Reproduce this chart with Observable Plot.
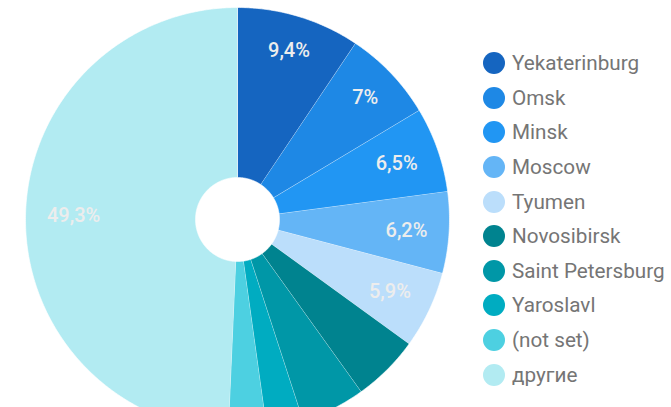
<!DOCTYPE html>
<html>
<head>
<meta charset="utf-8">
<script src="https://cdn.jsdelivr.net/npm/d3@7"></script>
<script src="https://cdn.jsdelivr.net/npm/@observablehq/plot@0.6"></script>
<style>
  html, body { margin: 0; padding: 0; background: #fff; overflow: hidden; }
  #wrap { position: relative; width: 671px; height: 407px; overflow: hidden; font-family: Roboto, "Noto Sans", sans-serif; }
  #chart { position: absolute; left: 0; top: 0; }
  #legend { position: absolute; left: 483px; top: 46px; }
  .row { display: flex; align-items: center; height: 34.6px; }
  .sw { width: 22px; height: 22px; border-radius: 50%; margin-right: 7px; flex: none; }
  .lab { font-size: 20.7px; color: #757575; white-space: nowrap; }
</style>
</head>
<body>
<div id="wrap"><div id="chart"></div><div id="legend"></div></div>
<script>
const cities = ["Yekaterinburg", "Omsk", "Minsk", "Moscow", "Tyumen", "Novosibirsk", "Saint Petersburg", "Yaroslavl", "(not set)", "другие"];
const shares = [9.4, 7, 6.5, 6.2, 5.9, 5.1, 4.9, 2.8, 2.9, 49.3];
const colors = ["#1565C0", "#1E88E5", "#2196F3", "#64B5F6", "#BBDEFB", "#00838F", "#0097A7", "#00ACC1", "#4DD0E1", "#B2EBF2"];
const labelThreshold = 5.5;

// layout
const W = 671, H = 407, CX = 237, CY = 219, R = 212, R0 = 42;
const inner = R0 / R;
const labelR = 0.9; // far corner of label box sits at 90% of radius
const fontSize = 20;

const total = d3.sum(shares);
let acc = 0;
const slices = cities.map((c, i) => {
  const a0 = acc / total * 2 * Math.PI;
  acc += shares[i];
  const a1 = acc / total * 2 * Math.PI;
  return {city: c, value: shares[i], a0, a1};
});

// polygon outline points (unit circle coords, y down)
const pts = [];
for (const s of slices) {
  const n = Math.max(2, Math.ceil((s.a1 - s.a0) / (Math.PI / 360)));
  for (let k = 0; k <= n; k++) {
    const a = s.a0 + (s.a1 - s.a0) * k / n;
    pts.push({city: s.city, x: Math.sin(a), y: -Math.cos(a)});
  }
  for (let k = n; k >= 0; k--) {
    const a = s.a0 + (s.a1 - s.a0) * k / n;
    pts.push({city: s.city, x: inner * Math.sin(a), y: -inner * Math.cos(a)});
  }
}

// labels
const ctx = document.createElement("canvas").getContext("2d");
ctx.font = `500 ${fontSize}px Roboto`;
const fmt = v => String(v).replace(".", ",") + "%";
const labels = slices.filter(s => s.value >= labelThreshold).map(s => {
  const text = fmt(s.value);
  const w = ctx.measureText(text).width / R;
  const h = fontSize * 0.72 / R;
  const m = (s.a0 + s.a1) / 2;
  const ux = Math.sin(m), uy = -Math.cos(m);
  const a = Math.sign(ux) * w / 2, b = Math.sign(uy) * h / 2;
  const p = ux * a + uy * b;
  const t = -p + Math.sqrt(p * p - (a * a + b * b - labelR * labelR));
  return {text, x: t * ux, y: t * uy};
});

const chart = Plot.plot({
  width: W,
  height: H,
  margin: 0,
  style: {background: "white", fontFamily: "Roboto, sans-serif", overflow: "hidden"},
  x: {domain: [-CX / R, (W - CX) / R], range: [0, W], axis: null},
  y: {domain: [-CY / R, (H - CY) / R], range: [0, H], axis: null},
  color: {domain: cities, range: colors},
  marks: [
    Plot.line(pts, {x: "x", y: "y", z: "city", fill: "city", stroke: "white", strokeWidth: 0.8, strokeOpacity: 0.8, curve: "linear"}),
    Plot.text(labels, {x: "x", y: "y", text: "text", fill: "#ededed", fontSize: fontSize, fontWeight: 500})
  ]
});
document.getElementById("chart").appendChild(chart);

const legend = document.getElementById("legend");
cities.forEach((c, i) => {
  const row = document.createElement("div");
  row.className = "row";
  const sw = document.createElement("div");
  sw.className = "sw";
  sw.style.background = colors[i];
  const lab = document.createElement("div");
  lab.className = "lab";
  lab.textContent = c;
  row.appendChild(sw);
  row.appendChild(lab);
  legend.appendChild(row);
});
</script>
</body>
</html>
